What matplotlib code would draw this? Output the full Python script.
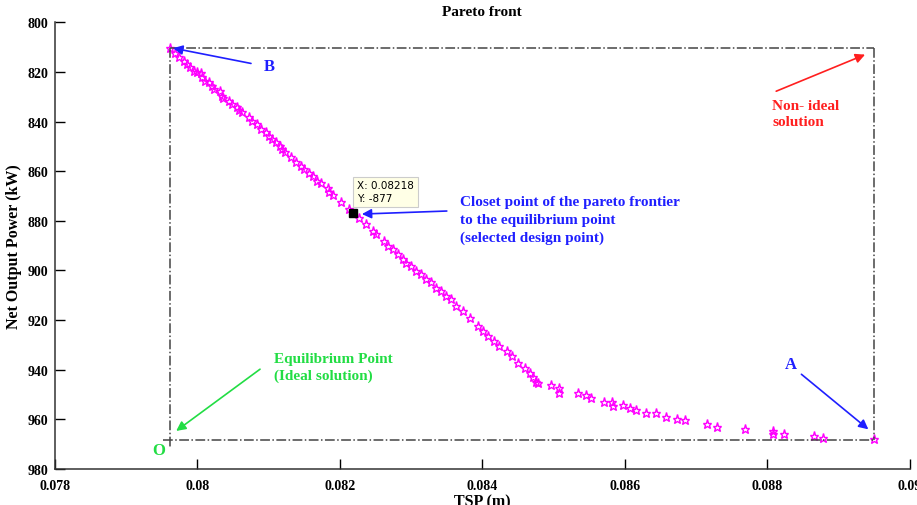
import numpy as np
import matplotlib.pyplot as plt

plt.rcParams['font.family'] = 'Liberation Serif'
plt.rcParams['font.weight'] = 'bold'

# Pareto front: TSP (m) vs net output power (kW, plotted as positive on a reversed axis)
tsp = [0.07962, 0.07969, 0.07974, 0.07981, 0.07985, 0.07989, 0.07995, 0.07999,
       0.08005, 0.08007, 0.08011, 0.08016, 0.08021, 0.08023, 0.08031, 0.08035,
       0.08036, 0.08044, 0.08049, 0.08056, 0.08058, 0.08063, 0.08072, 0.08077,
       0.08084, 0.08089, 0.08096, 0.08100, 0.08105, 0.08110, 0.08116, 0.08119,
       0.08123, 0.08131, 0.08138, 0.08145, 0.08150, 0.08157, 0.08162, 0.08168,
       0.08173, 0.08183, 0.08185, 0.08190, 0.08201, 0.08213,
       0.08227, 0.08237, 0.08246, 0.08251, 0.08262, 0.08267, 0.08274, 0.08281,
       0.08288, 0.08293, 0.08300, 0.08307, 0.08314, 0.08321, 0.08328, 0.08335,
       0.08342, 0.08349, 0.08356, 0.08363, 0.08373, 0.08382, 0.08394, 0.08401,
       0.08408, 0.08417, 0.08424, 0.08434, 0.08441, 0.08450, 0.08460, 0.08467,
       0.08471, 0.08476,
       0.08478, 0.08496, 0.08507, 0.08508, 0.08535, 0.08545, 0.08552, 0.08571,
       0.08582, 0.08583, 0.08598, 0.08607, 0.08616, 0.08630, 0.08644, 0.08658,
       0.08674, 0.08684, 0.08715, 0.08729, 0.08769, 0.08808, 0.08808, 0.08824,
       0.08865, 0.08878, 0.08950]
power = [810.5, 812.4, 814.1, 815.5, 816.8, 818.1, 819.5, 820.2,
         820.6, 822.2, 823.5, 824.2, 825.6, 826.9, 827.6, 829.6,
         830.6, 831.6, 832.9, 834.3, 835.2, 836.3, 838.3, 839.7,
         841.0, 843.0, 844.4, 846.0, 847.1, 848.4, 849.8, 851.1,
         852.4, 854.4, 856.2, 857.8, 859.2, 860.8, 861.9, 863.9,
         864.8, 866.9, 868.5, 869.6, 872.3, 875.3,
         879.0, 881.3, 884.0, 885.4, 888.1, 890.1, 891.4, 893.4,
         895.4, 896.8, 898.1, 900.2, 901.5, 903.5, 904.8, 906.9,
         908.2, 910.2, 911.6, 914.3, 916.3, 919.0, 922.3, 924.4,
         926.4, 928.4, 930.4, 932.4, 934.4, 937.1, 939.1, 941.1,
         943.1, 944.9,
         945.2, 946.1, 947.2, 949.2, 949.5, 950.3, 951.4, 952.8,
         953.0, 954.4, 954.2, 955.3, 956.3, 957.3, 957.5, 959.2,
         959.7, 960.4, 961.9, 963.1, 964.0, 964.7, 965.7, 966.0,
         966.8, 967.3, 967.7]

sel_x, sel_y = 0.08218, 877
x_min, x_max = 0.07962, 0.0895   # extremes B and A
y_best, y_worst = 810.5, 968.3

fig = plt.figure(figsize=(9.17, 5.06), dpi=100)
ax = fig.add_axes([0.06, 0.071, 0.932, 0.883])

ax.plot(tsp, power, linestyle='none', marker='*', markersize=6.5,
        markerfacecolor='none', markeredgecolor='#ff00ff', markeredgewidth=1.0)
ax.plot(sel_x, sel_y, 's', color='black', markersize=6, zorder=5)

# bounding box between ideal and non-ideal solutions
box = dict(color='#444444', linestyle='-.', linewidth=1.1)
ax.plot([x_min, x_max], [y_best, y_best], **box)
ax.plot([0.07952, x_max], [y_worst, y_worst], **box)
ax.plot([x_min, x_min], [y_best, 971.5], **box)
ax.plot([x_max, x_max], [y_best, y_worst], **box)

blue, green, red = '#1f1fff', '#22dd44', '#ff1f1f'
arr = lambda c: dict(arrowstyle='-|>', color=c, lw=1.2, mutation_scale=14)

ax.annotate('', xy=(0.07962, 810.2), xytext=(0.08079, 816.8), arrowprops=arr(blue))
ax.text(0.08093, 817.6, 'B', color=blue, fontsize=12, va='center')

ax.annotate('', xy=(0.08227, 877.3), xytext=(0.08354, 876.0), arrowprops=arr(blue))
ax.text(0.08369, 869.5, 'Closet point of the pareto frontier\nto the equilibrium point\n(selected design point)',
        color=blue, fontsize=11, va='top', linespacing=1.5)

ax.annotate('', xy=(0.08941, 812.6), xytext=(0.08809, 828.2), arrowprops=arr(red))
ax.text(0.08807, 831.0, 'Non- ideal\nsolution', color=red, fontsize=11, va='top', linespacing=1.3)

ax.annotate('', xy=(0.08945, 964.7), xytext=(0.08845, 941.1), arrowprops=arr(blue))
ax.text(0.08833, 937.8, 'A', color=blue, fontsize=12, ha='center', va='center')

ax.annotate('', xy=(0.07967, 965.3), xytext=(0.08091, 939.1), arrowprops=arr(green))
ax.text(0.08107, 932.7, 'Equilibrium Point\n(Ideal solution)', color=green, fontsize=11,
        va='top', linespacing=1.35)
ax.text(0.07945, 972.2, 'O', color=green, fontsize=12, ha='center', va='center')

# data tip for the selected design point
ax.text(0.08224, 873.0, 'X: %.5f\nY: %d' % (sel_x, -sel_y), family='DejaVu Sans',
        fontweight='normal', fontsize=7.5, va='bottom', linespacing=1.4,
        bbox=dict(boxstyle='square,pad=0.35', facecolor='#ffffe6', edgecolor='#cccccc', lw=0.8))

ax.set_xlim(0.078, 0.09)
ax.set_ylim(980, 800)
ax.set_xticks(np.arange(0.078, 0.0901, 0.002))
ax.set_xticklabels(['0.078', '0.08', '0.082', '0.084', '0.086', '0.088', '0.09'])
ax.set_yticks(np.arange(800, 981, 20))
ax.tick_params(direction='in', length=7, width=1, labelsize=10)
ax.tick_params(axis='x', pad=7)
ax.tick_params(axis='y', pad=5)
for lab in ax.get_xticklabels() + ax.get_yticklabels():
    lab.set_fontweight('bold')
ax.spines['top'].set_visible(False)
ax.spines['right'].set_visible(False)
for s in ('left', 'bottom'):
    ax.spines[s].set_color('#333333')
    ax.spines[s].set_linewidth(1.1)

ax.set_title('Pareto front', fontsize=11, fontweight='bold', pad=5)
ax.set_xlabel('TSP (m)', fontsize=11.5, fontweight='bold', labelpad=1)
ax.set_ylabel('Net Output Power (kW)', fontsize=11.5, fontweight='bold', labelpad=4)

fig.savefig('out.png', dpi=100)
